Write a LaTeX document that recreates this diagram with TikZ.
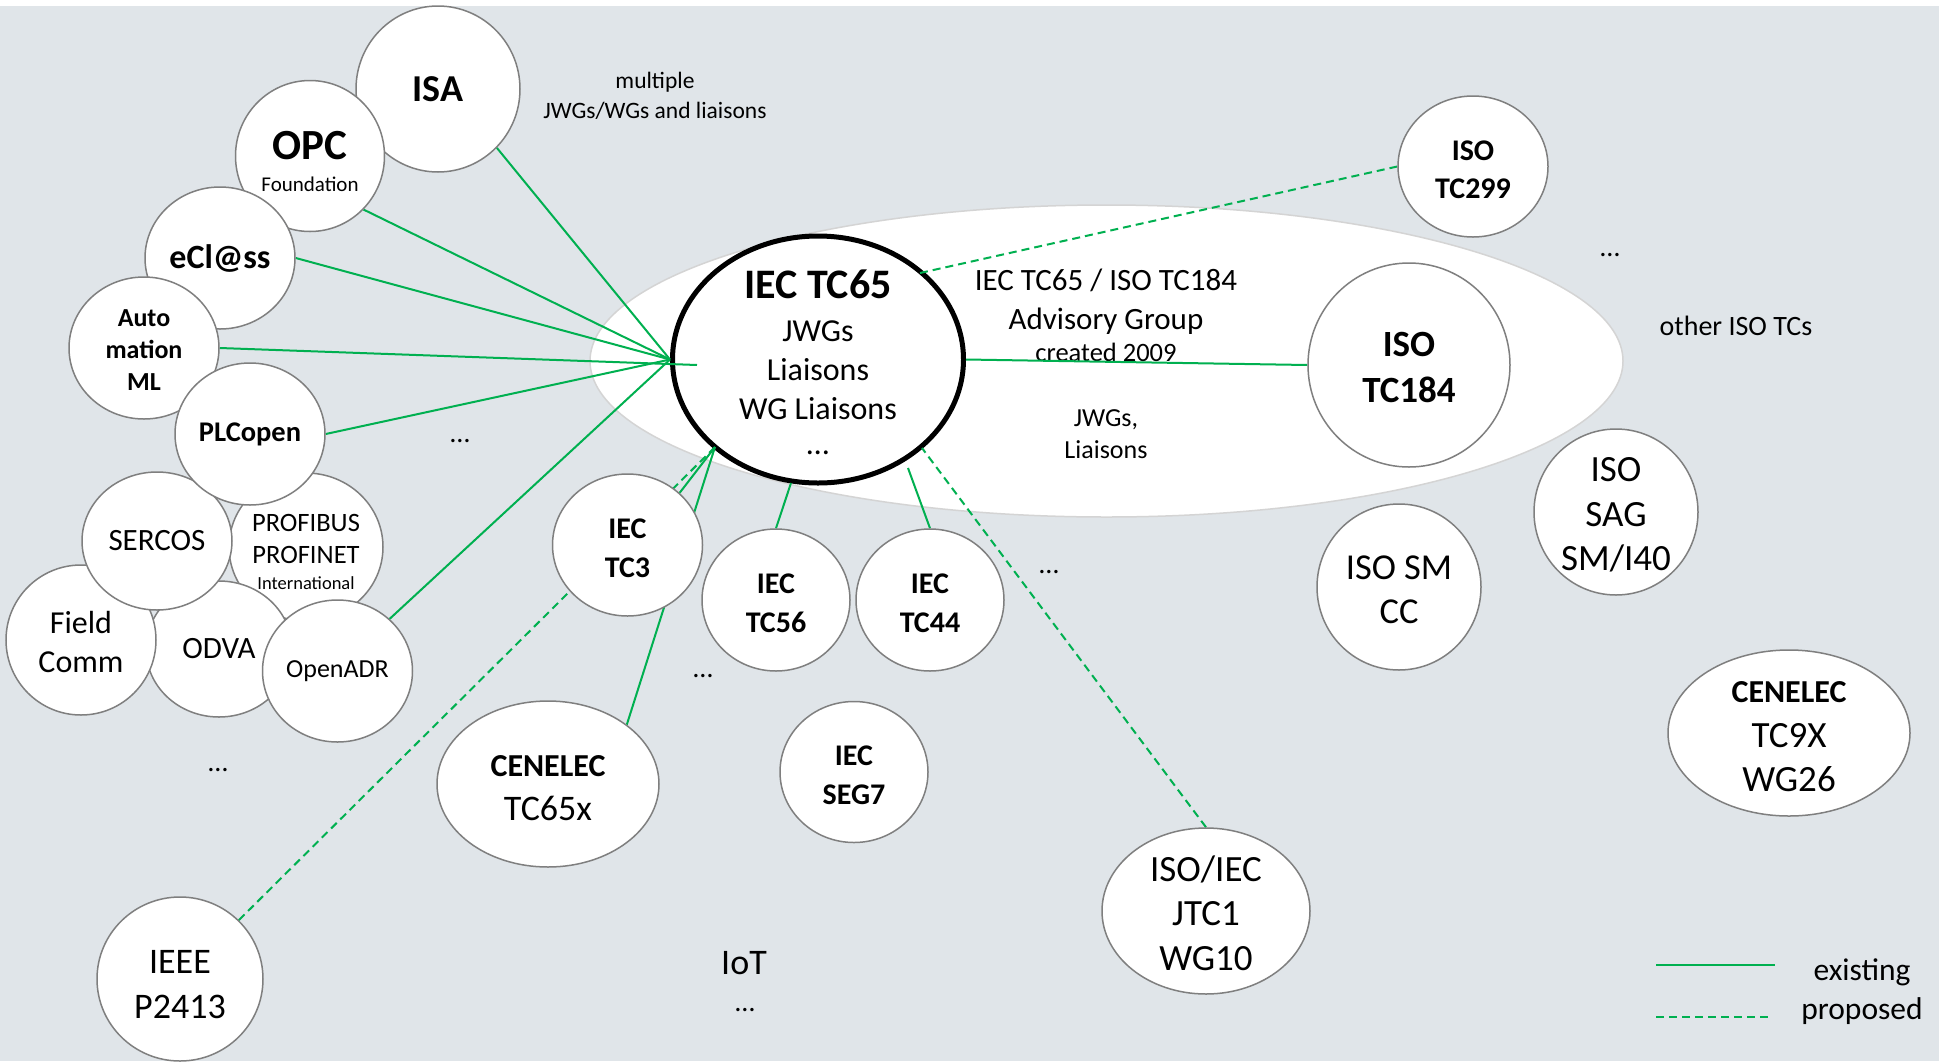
\documentclass[tikz,border=0pt]{standalone}
\usepackage{fontspec}
\setmainfont{Carlito}
\usetikzlibrary{shapes.geometric,positioning}
\definecolor{bggray}{RGB}{224,229,233}
\definecolor{rimgray}{RGB}{127,127,127}
\definecolor{agrim}{RGB}{212,212,212}
\definecolor{linkgreen}{RGB}{0,176,80}
\newcommand{\fsz}[2]{\fontsize{#1}{#2}\selectfont}
% extra room above the first line
\newcommand{\tpad}[1]{\rule{0pt}{\dimexpr0.72em+#1pt\relax}}
\pgfdeclarelayer{back}
\pgfdeclarelayer{links}
\pgfsetlayers{back,links,main}

\begin{document}
\begin{tikzpicture}[x=1pt,y=-1pt,
  org/.style={ellipse, draw=rimgray, fill=white, line width=1.5pt, inner sep=-8pt, align=center},
  dims/.style 2 args={minimum width=#1pt, minimum height=#2pt},
  hub/.style={ellipse, draw=black, fill=white, line width=5pt, inner sep=-30pt, align=center},
  existing/.style={draw=linkgreen, line width=2pt},
  proposed/.style={existing, dash pattern=on 8pt off 5pt},
  etc/.style={font=\fsz{28}{34}}
]
  \useasboundingbox (0,0) rectangle (1939,1061);

  % Background, advisory group and TC65
  \begin{pgfonlayer}{back}
    \fill[bggray] (0,6) rectangle (1939,1061);
    \node[ellipse, fill=white, draw=agrim, line width=1.5pt, dims={1033}{312}] (agroup) at (1106.5,361) {};
    \node[hub, dims={291}{247}, font=\fsz{32}{39}] (tc65) at (818,359.5)
      {{\fsz{42}{50}\bfseries\rule{0pt}{35pt}IEC TC65}\\[4pt]JWGs\\Liaisons\\WG Liaisons\\[-4pt]…};
    \node[font=\fsz{31}{39}, align=center] (agtitle) at (1106,315)
      {IEC TC65 / ISO TC184\\Advisory Group\\[-7pt]{\fsz{26.5}{32}created 2009}};
    \node[font=\fsz{26}{32}, align=center] (agjwg) at (1106,434) {JWGs,\\Liaisons};
  \end{pgfonlayer}

  % Organisations, left cluster
  \node[org, dims={164}{166}, font=\fsz{38}{46}\bfseries] (isa) at (438,89) {ISA};
  \node[org, dims={149}{151}, font=\fsz{21}{32}] (opc) at (310,156) {{\fsz{43}{32}\bfseries\rule{0pt}{40pt}OPC}\\Foundation};
  \node[org, dims={150}{142}, font=\fsz{34}{40}\bfseries] (eclass) at (220,258) {eCl@ss};
  \node[org, dims={150}{142}, font=\fsz{26}{32}\bfseries] (aml) at (144,348) {\tpad{1.5}Auto\\mation\\ML};
  \node[org, dims={154}{148}, font=\fsz{26.5}{32}] (profibus) at (306,547)
    {\tpad{9}PROFIBUS\\PROFINET\\[-6pt]{\fsz{18.5}{20}International}};
  \node[org, dims={146}{136}, font=\fsz{31}{37}] (odva) at (219,649) {ODVA};
  \node[org, dims={150}{150}, font=\fsz{32}{39}] (fieldcomm) at (81,640) {\tpad{3}Field\\Comm};
  \node[org, dims={150}{138}, font=\fsz{31}{37}] (sercos) at (157,541) {SERCOS};
  \node[org, dims={150}{142}, font=\fsz{28.5}{34}\bfseries] (plcopen) at (250,434) {PLCopen};
  \node[org, dims={150}{142}, font=\fsz{26}{31}] (openadr) at (337.5,671) {OpenADR};

  % IEC and CENELEC
  \node[org, dims={150}{142}, font=\fsz{30}{39}\bfseries] (tc3) at (627.5,545) {\tpad{4}IEC\\TC3};
  \node[org, dims={148}{142}, font=\fsz{30}{39}\bfseries] (tc56) at (776,600) {\tpad{4}IEC\\TC56};
  \node[org, dims={148}{142}, font=\fsz{30}{39}\bfseries] (tc44) at (930,600) {\tpad{4}IEC\\TC44};
  \node[org, dims={148}{141}, font=\fsz{30}{39}\bfseries] (seg7) at (854,772) {\tpad{4}IEC\\SEG7};
  \node[org, dims={222}{166}, font=\fsz{36}{44.5}] (cen65) at (548,784) {{\fsz{32}{44.5}\bfseries\tpad{6}CENELEC}\\TC65x};
  \node[org, dims={166}{164}, font=\fsz{36}{45}] (ieee) at (180,979) {\tpad{8.5}IEEE\\P2413};
  \node[org, dims={208}{166}, font=\fsz{37}{44.5}] (jtc1) at (1206,911) {\tpad{3.5}ISO/IEC\\JTC1\\WG10};

  % ISO side
  \node[org, dims={164}{166}, font=\fsz{36.5}{44}] (smcc) at (1399,587) {\tpad{2}ISO SM\\CC};
  \node[org, dims={164}{166}, font=\fsz{37}{44.5}] (sag) at (1616,512) {\tpad{3.5}ISO\\SAG\\SM/I40};
  \node[org, dims={242}{166}, font=\fsz{37}{44.5}] (cen9x) at (1789,733) {{\fsz{32}{44.5}\bfseries\tpad{6}CENELEC}\\TC9X\\WG26};
  \node[org, dims={150}{141}, font=\fsz{30}{38}\bfseries] (tc299) at (1473,166.5) {\tpad{4}ISO\\TC299};
  \node[org, dims={202}{204}, font=\fsz{37}{46}\bfseries] (tc184) at (1409,365) {\tpad{2.5}ISO\\TC184};

  % Free texts
  \node[font=\fsz{23.5}{29.5}, align=center] (multi) at (655,96) {multiple\\JWGs/WGs and liaisons};
  \node[font=\fsz{28}{34}] (otheriso) at (1736,326) {other ISO TCs};
  \node[font=\fsz{36}{44}] (iot) at (744,963) {IoT};
  \node[etc] (etcplc) at (460,441) {…};
  \node[etc] (etcodva) at (218,770) {…};
  \node[etc] (etciec) at (703,676) {…};
  \node[etc] (etcjtc) at (1049,572) {…};
  \node[etc] (etciso) at (1610,255) {…};
  \node[etc] (etciot) at (745,1010) {…};

  % Hub end points
  \coordinate (hubAML) at (697,365);
  \coordinate (hubSW) at (715,447);
  \coordinate (hubS) at (791,483);
  \coordinate (hubTC44) at (908,468);
  \coordinate (hubSE) at (922,448);
  \coordinate (hubNE) at (920,273);

  % Links
  \begin{pgfonlayer}{links}
    \draw[existing] (isa.-45) -- (tc65.west);
    \draw[existing] (opc.-45) -- (tc65.west);
    \draw[existing] (eclass.east) -- (tc65.west);
    \draw[existing] (aml.east) -- (hubAML);
    \draw[existing] (plcopen.east) -- (tc65.west);
    \draw[existing] (openadr.45) -- (tc65.west);
    \draw[proposed] (ieee.45) -- (hubSW);
    \draw[existing] (cen65.37) -- (hubSW);
    \draw[existing] (tc3.45) -- (hubSW);
    \draw[existing] (tc56.north) -- (hubS);
    \draw[existing] (tc44.north) -- (hubTC44);
    \draw[proposed] (jtc1.north) -- (hubSE);
    \draw[proposed] (hubNE) -- (tc299.west);
    \draw[existing] (tc65.east) -- (tc184.west);
  \end{pgfonlayer}

  % Legend
  \coordinate (exA) at (1656,965);
  \coordinate (exB) at (1775,965);
  \coordinate (prA) at (1656,1017);
  \coordinate (prB) at (1772,1017);
  \draw[existing] (exA) -- (exB);
  \draw[proposed] (prA) -- (prB);
  \node[font=\fsz{31.5}{38}] (exlabel) at (1862,972) {existing};
  \node[font=\fsz{31.5}{38}] (prlabel) at (1862,1011) {proposed};
\end{tikzpicture}
\end{document}
